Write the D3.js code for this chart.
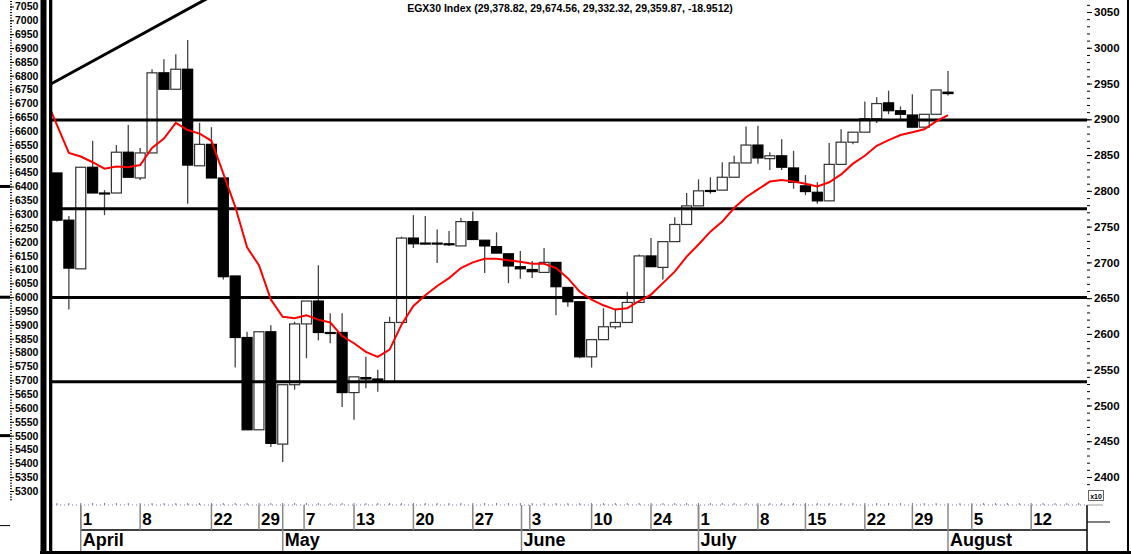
<!DOCTYPE html>
<html>
<head>
<meta charset="utf-8">
<script src="https://cdnjs.cloudflare.com/ajax/libs/d3/7.8.5/d3.min.js"></script>
<style>
  body { margin: 0; background: #fff; }
  svg { display: block; font-family: "Liberation Sans", Arial, sans-serif; }
</style>
</head>
<body>
<div id="chart"></div>
<script>
// Daily EGX30 candles, in index points / 10 (right axis is x10)
var opens  = [2825, 2759, 2691, 2833, 2797, 2797, 2854, 2818, 2853, 2965, 2942, 2970, 2835, 2865, 2818, 2681, 2595, 2466, 2603, 2446,
              2529, 2614, 2646, 2602, 2602, 2518, 2539, 2537, 2533, 2616, 2734, 2727, 2727, 2726, 2723, 2757, 2731, 2722, 2712, 2694,
              2690, 2686, 2700, 2665, 2645, 2568, 2592, 2610, 2616, 2644, 2709, 2693, 2729, 2753, 2779, 2800.5, 2801, 2819, 2839, 2864,
              2845, 2849, 2832, 2807, 2798, 2786, 2837, 2868, 2882, 2901, 2923, 2912, 2906, 2889, 2907, 2937.9];
var highs  = [2825, 2765, 2833, 2870, 2801, 2864, 2892, 2860, 2970, 2984, 2991, 3011, 2895, 2889, 2818, 2681, 2603, 2603, 2612, 2529,
              2617, 2646, 2696, 2629, 2629, 2540, 2568, 2550, 2624, 2736, 2766, 2765, 2746, 2744, 2762, 2771, 2731, 2742, 2712, 2716,
              2702, 2720, 2700, 2665, 2645, 2592, 2636, 2635, 2659, 2711, 2734, 2729, 2763, 2797, 2816, 2819, 2840, 2849, 2890, 2891,
              2854, 2872, 2856, 2822, 2812, 2867, 2886, 2882, 2925, 2931, 2940, 2918, 2935, 2907, 2941, 2967.5];
var lows   = [2757, 2634, 2691, 2797, 2766, 2797, 2819, 2815, 2853, 2942, 2942, 2782, 2835, 2818, 2676, 2553, 2466, 2466, 2442, 2421,
              2522, 2566, 2591, 2587, 2498, 2480, 2524, 2519, 2533, 2616, 2720, 2725, 2699, 2723, 2723, 2732, 2685, 2713, 2671, 2677,
              2678, 2686, 2626, 2638, 2566, 2553, 2592, 2607, 2616, 2644, 2694, 2676, 2729, 2753, 2779, 2796, 2801, 2819, 2839, 2838,
              2829, 2829, 2803, 2794, 2782, 2786, 2837, 2865, 2882, 2895, 2907, 2900, 2889, 2889, 2907, 2933.2];
var closes = [2759, 2692, 2833, 2797, 2796.5, 2854, 2819, 2853, 2965, 2942, 2970, 2836, 2865, 2818, 2680, 2595, 2466, 2603, 2447, 2529,
              2614, 2646, 2602, 2601, 2518, 2540, 2537, 2534, 2616, 2734, 2726, 2726, 2726, 2725, 2757, 2732, 2723, 2713, 2695, 2691,
              2687, 2700, 2666, 2645, 2568, 2592, 2610, 2616, 2644, 2709, 2694, 2729, 2753, 2779, 2800, 2800, 2819, 2839, 2864, 2846,
              2849, 2833, 2812, 2799, 2786, 2837, 2868, 2882, 2901, 2922, 2912, 2907, 2889, 2907, 2941, 2936.0];

// red moving average as drawn, starting one day before the first candle
var maValues = [2931, 2892, 2853, 2848, 2840, 2831, 2834, 2833, 2836, 2860, 2873, 2895, 2885, 2880, 2870, 2824, 2778, 2721, 2696, 2648,
                2624, 2622, 2626, 2620, 2616, 2597, 2587, 2575, 2568, 2578, 2613, 2639, 2654, 2667, 2678, 2692, 2700, 2705, 2705, 2703,
                2701, 2698, 2698, 2692, 2678, 2659, 2648, 2640, 2634, 2636, 2646, 2655, 2671, 2687, 2708, 2725, 2743, 2757, 2776, 2791,
                2802, 2813, 2815, 2813, 2810, 2806, 2812, 2823, 2838, 2849, 2863, 2871, 2878, 2882, 2886, 2897, 2906];

var levels = [2899, 2775, 2651, 2533];          // horizontal support / resistance lines
var trendPoints = [[0, 2954], [12, 3063]];      // rising trend line, top left

var dayTicks  = [2, 7, 13, 17, 20.8, 25, 30, 35, 39.8, 45, 50, 54, 59, 63, 68, 72, 77, 82];
var dayLabels = ["1", "8", "22", "29", "7", "13", "20", "27", "3", "10", "24", "1", "8", "15", "22", "29", "5", "12"];
var monthTicks  = [2, 19, 39.1, 54, 75];
var monthLabels = ["April", "May", "June", "July", "August"];

var rightTicks = d3.range(2400, 3051, 50);
var leftTicks  = d3.range(5300, 7051, 50);
var leftMarks  = [6400, 6000, 5500];

var title = "EGX30 Index (29,378.82, 29,674.56, 29,332.32, 29,359.87, -18.9512)";

var width = 1131, height = 554;
var plot = { left: 52, right: 1087, top: 0, bottom: 504 };

var svg = d3.select("#chart").append("svg")
    .attr("width", width)
    .attr("height", height);

var x = d3.scaleLinear().domain([-0.42, 86.7]).range([plot.left, plot.right]);
var y = d3.scaleLinear().domain([2400, 3050]).range([477, 12]);
var yLeft = d3.scaleLinear().domain([5300, 7050]).range([491, 6.5]);

svg.append("clipPath").attr("id", "plotClip")
  .append("rect")
    .attr("x", plot.left).attr("y", plot.top)
    .attr("width", plot.right - plot.left).attr("height", plot.bottom - plot.top);

var g = svg.append("g").attr("clip-path", "url(#plotClip)");

// candles
var days = d3.range(opens.length);
var candle = g.selectAll(".candle").data(days).enter().append("g").attr("class", "candle");

candle.append("line")
    .attr("x1", function (i) { return x(i); })
    .attr("x2", function (i) { return x(i); })
    .attr("y1", function (i) { return y(highs[i]); })
    .attr("y2", function (i) { return y(lows[i]); })
    .attr("stroke", "#444")
    .attr("stroke-width", 1.3);

candle.append("rect")
    .attr("x", function (i) { return x(i) - 5; })
    .attr("width", 10)
    .attr("y", function (i) { return y(Math.max(opens[i], closes[i])); })
    .attr("height", function (i) { return Math.max(1, Math.abs(y(opens[i]) - y(closes[i]))); })
    .attr("fill", function (i) { return closes[i] < opens[i] ? "#000" : "#fff"; })
    .attr("stroke", function (i) { return closes[i] < opens[i] ? "#000" : "#333"; })
    .attr("stroke-width", 1.2);

// horizontal levels
g.selectAll(".level").data(levels).enter().append("line")
    .attr("class", "level")
    .attr("x1", plot.left).attr("x2", plot.right)
    .attr("y1", function (d) { return y(d); })
    .attr("y2", function (d) { return y(d); })
    .attr("stroke", "#000")
    .attr("stroke-width", 3);

// trend line, extended across the top left
var slope = (trendPoints[1][1] - trendPoints[0][1]) / (trendPoints[1][0] - trendPoints[0][0]);
var tStart = -1, tEnd = 16;
g.append("line")
    .attr("x1", x(tStart)).attr("y1", y(trendPoints[0][1] + slope * (tStart - trendPoints[0][0])))
    .attr("x2", x(tEnd)).attr("y2", y(trendPoints[0][1] + slope * (tEnd - trendPoints[0][0])))
    .attr("stroke", "#000")
    .attr("stroke-width", 3);

// moving average
var maLine = d3.line()
    .x(function (d, i) { return x(i - 1); })
    .y(function (d) { return y(d); });
g.append("path")
    .datum(maValues)
    .attr("d", maLine)
    .attr("fill", "none")
    .attr("stroke", "#ff0000")
    .attr("stroke-width", 2);

// title
svg.append("text")
    .attr("x", 570).attr("y", 12)
    .attr("text-anchor", "middle")
    .attr("font-size", "10.5px")
    .attr("font-weight", "bold")
    .text(title);

// right axis (x10)
var rightAxis = svg.append("g")
    .attr("transform", "translate(" + plot.right + ",0)")
    .call(d3.axisRight(y).tickValues(rightTicks).tickSize(5).tickPadding(2).tickFormat(d3.format("d")));
rightAxis.select(".domain").remove();
rightAxis.selectAll("text").attr("font-size", "11.5px").attr("font-weight", "bold").attr("fill", "#000")
    .attr("font-family", "Liberation Sans, Arial, sans-serif");
var rightMinor = svg.append("g")
    .attr("transform", "translate(" + plot.right + ",0)")
    .call(d3.axisRight(y).tickValues(d3.range(2390, 3070, 10)).tickSize(3).tickFormat(""));
rightMinor.select(".domain").remove();

// left axis
var leftAxis = svg.append("g")
    .attr("transform", "translate(10,0)")
    .call(d3.axisRight(yLeft).tickValues(leftTicks).tickSize(4).tickPadding(1).tickFormat(d3.format("d")));
leftAxis.select(".domain").remove();
leftAxis.selectAll("text").attr("font-size", "10.5px").attr("font-weight", "bold").attr("fill", "#000")
    .attr("font-family", "Liberation Sans, Arial, sans-serif");
var leftMinor = svg.append("g")
    .attr("transform", "translate(10,0)")
    .call(d3.axisRight(yLeft).tickValues(d3.range(5270, 7071, 10)).tickSize(2).tickFormat(""));
leftMinor.select(".domain").remove();

svg.selectAll(".leftMark").data(leftMarks).enter().append("line")
    .attr("class", "leftMark")
    .attr("x1", 0).attr("x2", 10)
    .attr("y1", function (d) { return yLeft(d); })
    .attr("y2", function (d) { return yLeft(d); })
    .attr("stroke", "#000").attr("stroke-width", 3);
svg.append("line").attr("x1", 0).attr("x2", 10).attr("y1", yLeft(5175)).attr("y2", yLeft(5175))
    .attr("stroke", "#000").attr("stroke-width", 1);

// thick double bar on the left
svg.append("rect").attr("x", 40.5).attr("y", 0).attr("width", 6).attr("height", height).attr("fill", "#000");
svg.append("rect").attr("x", 49).attr("y", 0).attr("width", 3.3).attr("height", height).attr("fill", "#000");

// date axis
var axisTop = 505, rowMid = 530, axisBottom = 551;
svg.append("line")
    .attr("x1", plot.left).attr("x2", plot.right)
    .attr("y1", axisTop).attr("y2", axisTop)
    .attr("stroke", "#7777bb").attr("stroke-width", 1).attr("stroke-dasharray", "1,3");
svg.selectAll(".slotTick").data(d3.range(0, 87)).enter().append("line")
    .attr("class", "slotTick")
    .attr("x1", function (i) { return x(i); }).attr("x2", function (i) { return x(i); })
    .attr("y1", axisTop - 2).attr("y2", axisTop)
    .attr("stroke", "#7777bb").attr("stroke-width", 1);

svg.append("line")
    .attr("x1", x(monthTicks[0])).attr("x2", plot.right)
    .attr("y1", rowMid).attr("y2", rowMid)
    .attr("stroke", "#000").attr("stroke-width", 1.5);

svg.selectAll(".daySep").data(dayTicks).enter().append("line")
    .attr("class", "daySep")
    .attr("x1", function (d) { return x(d); }).attr("x2", function (d) { return x(d); })
    .attr("y1", axisTop).attr("y2", rowMid)
    .attr("stroke", "#888").attr("stroke-width", 1.5);
svg.selectAll(".dayLabel").data(dayTicks).enter().append("text")
    .attr("class", "dayLabel")
    .attr("x", function (d) { return x(d) + 2; })
    .attr("y", 525)
    .attr("font-size", "17px").attr("font-weight", "bold")
    .text(function (d, i) { return dayLabels[i]; });

svg.selectAll(".monthSep").data(monthTicks).enter().append("line")
    .attr("class", "monthSep")
    .attr("x1", function (d) { return x(d); }).attr("x2", function (d) { return x(d); })
    .attr("y1", axisTop).attr("y2", axisBottom)
    .attr("stroke", "#888").attr("stroke-width", 1.5);
svg.selectAll(".monthLabel").data(monthTicks).enter().append("text")
    .attr("class", "monthLabel")
    .attr("x", function (d) { return x(d) + 2; })
    .attr("y", 546)
    .attr("font-size", "18px").attr("font-weight", "bold")
    .text(function (d, i) { return monthLabels[i]; });

// frame pieces
svg.append("line").attr("x1", plot.right).attr("x2", plot.right).attr("y1", axisTop).attr("y2", axisBottom)
    .attr("stroke", "#000").attr("stroke-width", 1.5);
svg.append("rect").attr("x", 40).attr("y", axisBottom).attr("width", width - 40).attr("height", 3).attr("fill", "#000");
svg.append("line").attr("x1", 1128).attr("x2", 1128).attr("y1", 0).attr("y2", height)
    .attr("stroke", "#000").attr("stroke-width", 2);
svg.append("line").attr("x1", plot.right).attr("x2", 1103).attr("y1", axisTop).attr("y2", axisTop)
    .attr("stroke", "#999").attr("stroke-width", 1);
svg.append("line").attr("x1", plot.right).attr("x2", 1110).attr("y1", 522).attr("y2", 522)
    .attr("stroke", "#000").attr("stroke-width", 1);

svg.append("rect").attr("x", 1088.5).attr("y", 490.5).attr("width", 15).attr("height", 10)
    .attr("fill", "#fff").attr("stroke", "#666").attr("stroke-width", 1);
svg.append("text").attr("x", 1096).attr("y", 498.5).attr("text-anchor", "middle")
    .attr("font-size", "7px").attr("font-weight", "bold").text("x10");
</script>
</body>
</html>
